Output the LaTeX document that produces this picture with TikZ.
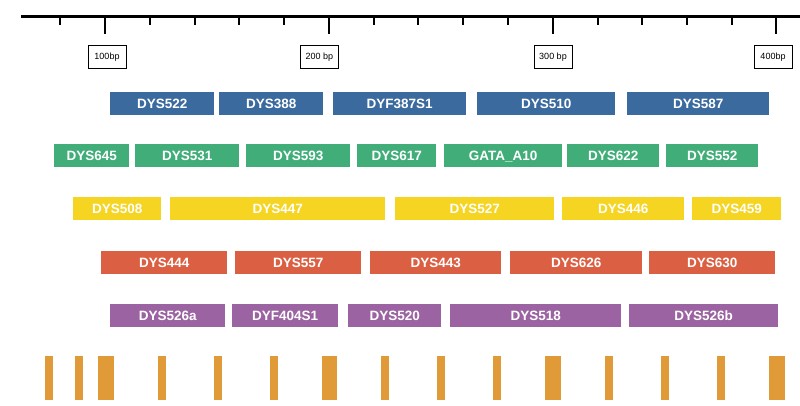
\documentclass[tikz,border=0pt]{standalone}
\usepackage{fontspec}
\setmainfont{Liberation Sans}
\usepackage{xcolor}
\definecolor{rowblue}{RGB}{59,106,158}
\definecolor{rowgreen}{RGB}{65,173,121}
\definecolor{rowyellow}{RGB}{245,212,34}
\definecolor{rowred}{RGB}{219,96,67}
\definecolor{rowpurple}{RGB}{155,99,161}
\definecolor{barorange}{RGB}{224,154,55}
\tikzset{
  locus/.style={rectangle, inner sep=0pt, minimum height=23pt, anchor=west,
    text height=9.7pt, text depth=0pt,
    text=white, font=\bfseries\fontsize{13.5}{15}\selectfont},
  bplabel/.style={rectangle, draw=black, line width=0.8pt, fill=white, inner sep=0pt,
    minimum width=38pt, minimum height=23pt, text height=6.5pt, text depth=0pt,
    font=\fontsize{9}{10}\selectfont},
}

\begin{document}
\begin{tikzpicture}[x=1pt,y=-1pt]
  \useasboundingbox (0,0) rectangle (800,405);
  % ruler
  \draw[line width=3pt] (21,16.5) -- (800,16.5);
  \foreach \tx in {60,150,195,239,284,374,418,463,508,598,642,687,732}
    \draw[line width=1.6pt] (\tx,16) -- (\tx,25);
  \foreach \tx in {105,329,553,776}
    \draw[line width=1.6pt] (\tx,16) -- (\tx,34);
  \node[bplabel] (bp100) at (107,56.5) {100bp};
  \node[bplabel] (bp200) at (319.5,56.5) {200 bp};
  \node[bplabel] (bp300) at (553,56.5) {300 bp};
  \node[bplabel] (bp400) at (773,56.5) {400bp};
  % blue row
  \node[locus, fill=rowblue, minimum width=104pt] (DYS522) at (110,103.5) {DYS522};
  \node[locus, fill=rowblue, minimum width=104pt] (DYS388) at (219,103.5) {DYS388};
  \node[locus, fill=rowblue, minimum width=133pt] (DYF387S1) at (333,103.5) {DYF387S1};
  \node[locus, fill=rowblue, minimum width=138pt] (DYS510) at (477,103.5) {DYS510};
  \node[locus, fill=rowblue, minimum width=142pt] (DYS587) at (627,103.5) {DYS587};
  % green row
  \node[locus, fill=rowgreen, minimum width=75pt] (DYS645) at (54,155.5) {DYS645};
  \node[locus, fill=rowgreen, minimum width=104pt] (DYS531) at (135,155.5) {DYS531};
  \node[locus, fill=rowgreen, minimum width=104pt] (DYS593) at (246,155.5) {DYS593};
  \node[locus, fill=rowgreen, minimum width=79pt] (DYS617) at (357,155.5) {DYS617};
  \node[locus, fill=rowgreen, minimum width=118pt] (GATAA10) at (444,155.5) {GATA\_A10};
  \node[locus, fill=rowgreen, minimum width=92pt] (DYS622) at (567,155.5) {DYS622};
  \node[locus, fill=rowgreen, minimum width=92pt] (DYS552) at (666,155.5) {DYS552};
  % yellow row
  \node[locus, fill=rowyellow, minimum width=88pt] (DYS508) at (73,208.5) {DYS508};
  \node[locus, fill=rowyellow, minimum width=215pt] (DYS447) at (170,208.5) {DYS447};
  \node[locus, fill=rowyellow, minimum width=159pt] (DYS527) at (395,208.5) {DYS527};
  \node[locus, fill=rowyellow, minimum width=122pt] (DYS446) at (562,208.5) {DYS446};
  \node[locus, fill=rowyellow, minimum width=89pt] (DYS459) at (692,208.5) {DYS459};
  % red row
  \node[locus, fill=rowred, minimum width=126pt] (DYS444) at (101,262.5) {DYS444};
  \node[locus, fill=rowred, minimum width=126pt] (DYS557) at (235,262.5) {DYS557};
  \node[locus, fill=rowred, minimum width=131pt] (DYS443) at (370,262.5) {DYS443};
  \node[locus, fill=rowred, minimum width=132pt] (DYS626) at (510,262.5) {DYS626};
  \node[locus, fill=rowred, minimum width=126pt] (DYS630) at (649,262.5) {DYS630};
  % purple row
  \node[locus, fill=rowpurple, minimum width=115pt] (DYS526a) at (110,315.5) {DYS526a};
  \node[locus, fill=rowpurple, minimum width=106pt] (DYF404S1) at (232,315.5) {DYF404S1};
  \node[locus, fill=rowpurple, minimum width=93pt] (DYS520) at (348,315.5) {DYS520};
  \node[locus, fill=rowpurple, minimum width=171pt] (DYS518) at (450,315.5) {DYS518};
  \node[locus, fill=rowpurple, minimum width=149pt] (DYS526b) at (629,315.5) {DYS526b};
  % orange bars
  \foreach \xa/\xb in {45/53,75/83,98/114,158/166,214/222,270/278,322/337,381/389,
                       437/445,493/501,545/561,605/613,661/669,717/725,769/785}
    \fill[barorange] (\xa,356) rectangle (\xb,400);
\end{tikzpicture}
\end{document}
